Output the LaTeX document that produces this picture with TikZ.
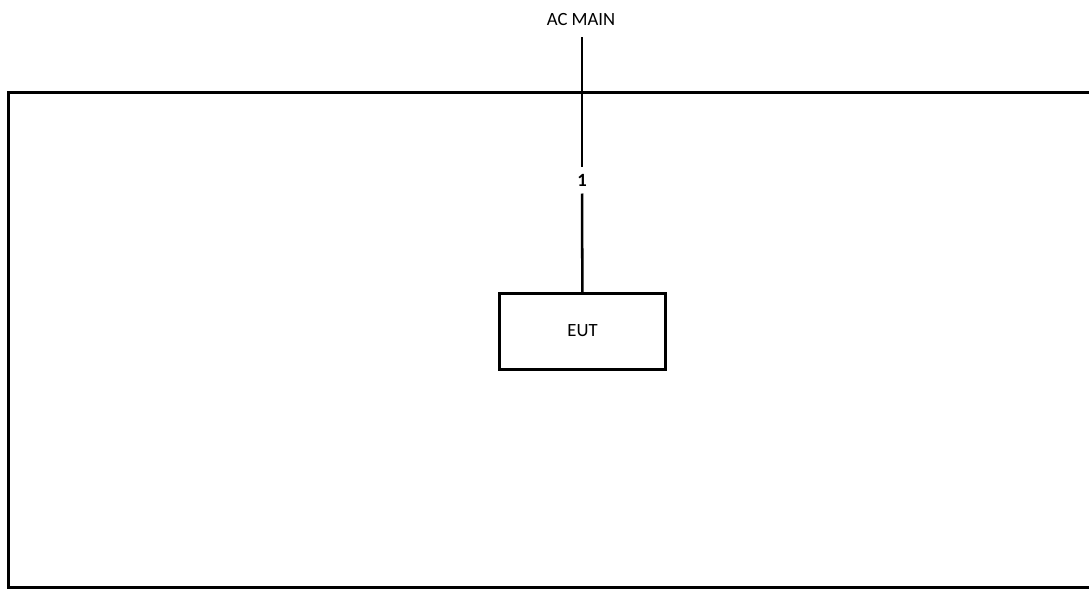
\documentclass[tikz,border=0pt]{standalone}
\usepackage{fontspec}
\setmainfont{Carlito}
\begin{document}
\begin{tikzpicture}[x=0.75pt,y=-0.75pt,
  thickline/.style={line width=2.25pt},
  wire/.style={line width=1.9pt},
  txt/.style={font=\fontsize{14pt}{16pt}\selectfont},
  lbl/.style={txt, inner sep=0pt, outer sep=0pt}]
\useasboundingbox (0,0) rectangle (1089,589);
\clip (0,0) rectangle (1089,589);
\node[draw, thickline, minimum width={(1100-8.5)*0.75pt}, minimum height={(587-92.5)*0.75pt}, anchor=north west, inner sep=0pt, outer sep=0pt] (room) at (8.5,92.5) {};
\node[lbl] (acmain) at (581,20) {AC MAIN};
\coordinate (top) at (582,37);
\node[lbl, font=\fontsize{14pt}{16pt}\selectfont\bfseries, minimum height={27*0.75pt}] (one) at (582,180) {1};
\node[draw, thickline, minimum width={166*0.75pt}, minimum height={76*0.75pt}, inner sep=0pt, outer sep=0pt, txt] (eut) at (582.5,331) {EUT};
\draw[wire] (top) -- (one);
\draw[wire] (one) -- (eut);
\end{tikzpicture}
\end{document}
